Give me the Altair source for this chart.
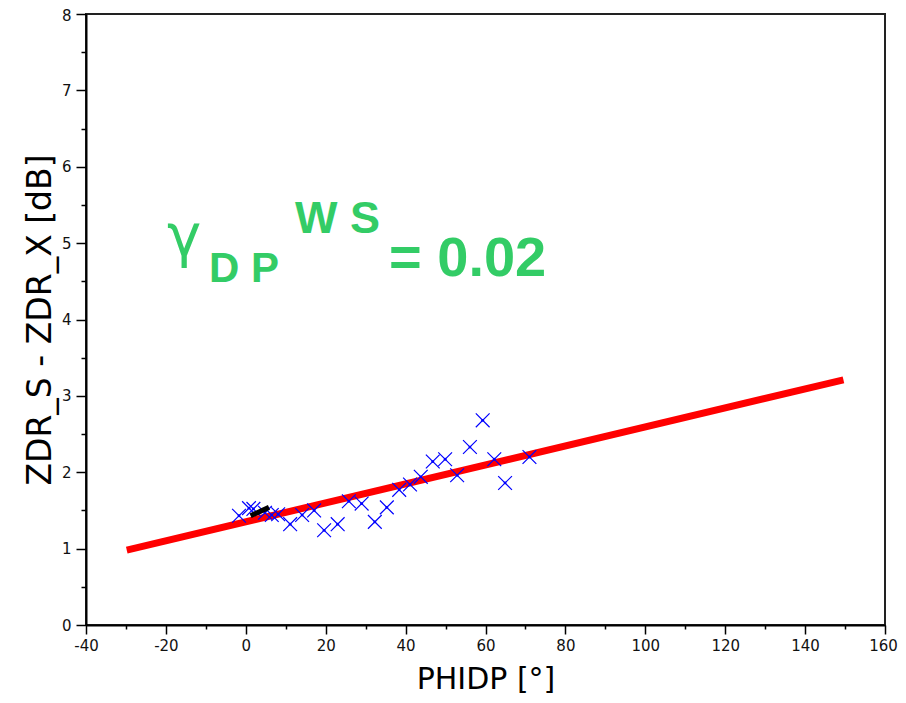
import altair as alt
import pandas as pd

# Blue scatter points (PHIDP, ZDR_S - ZDR_X)
phidp = [-1.7, 0.8, 1.9, 4.8, 6.5, 8.1, 11.1, 14.1, 17.1, 19.6, 23.0, 25.8, 29.0,
         32.3, 35.3, 38.4, 41.1, 43.8, 46.8, 49.9, 52.9, 56.1, 59.3, 62.2, 64.9, 71.0]
dzdr = [1.43, 1.53, 1.52, 1.47, 1.44, 1.45, 1.32, 1.44, 1.50, 1.24, 1.32, 1.62, 1.59,
        1.35, 1.54, 1.77, 1.84, 1.94, 2.14, 2.17, 1.96, 2.33, 2.68, 2.17, 1.86, 2.20]

# black cluster
blk_x = [1.2, 5.8]
blk_y = [1.43, 1.54]

# fitted line
fit_x = [-29.8, 149.6]
fit_y = [0.98, 3.21]

x_major = [-40, -20, 0, 20, 40, 60, 80, 100, 120, 140, 160]
x_minor = [-30, -10, 10, 30, 50, 70, 90, 110, 130, 150]
y_major = [0, 1, 2, 3, 4, 5, 6, 7, 8]
y_minor = [0.5, 1.5, 2.5, 3.5, 4.5, 5.5, 6.5, 7.5]

pts = pd.DataFrame({"x": phidp, "y": dzdr})
blk = pd.DataFrame({"x": blk_x, "y": blk_y})
fit = pd.DataFrame({"x": fit_x, "y": fit_y})

GREEN = "#33cc66"
xs = alt.Scale(domain=[-40, 160], nice=False, zero=False)
ys = alt.Scale(domain=[0, 8], nice=False, zero=False)

x_axis_major = alt.Axis(values=x_major, orient="bottom", title="PHIDP [°]",
                        titleFontSize=30, titleFontWeight="normal", titleFont="DejaVu Sans",
                        titleY=54, titleBaseline="middle", titleColor="black",
                        labelFontSize=15, labelFont="DejaVu Sans", labelColor="#111",
                        labelExpr="datum.value + ''",
                        labelOffset={"condition": {"test": "datum.value == 160", "value": -2},
                                     "value": 0},
                        labelPadding=4, tickSize=9, tickColor="black", tickWidth=1.5,
                        domainColor="black", domainWidth=2, grid=False, labelFlush=False)
y_axis_major = alt.Axis(values=y_major, orient="left", title="ZDR_S - ZDR_X [dB]",
                        titleFontSize=33, titleFontWeight="normal", titleFont="DejaVu Sans",
                        titleX=-46, titleBaseline="middle", titleColor="black", titleAngle=270,
                        labelFontSize=15, labelFont="DejaVu Sans", labelColor="#111",
                        labelExpr="datum.value + ''",
                        labelBaseline={"condition": {"test": "datum.value == 8", "value": "top"},
                                       "value": "middle"},
                        labelOffset={"condition": {"test": "datum.value == 8", "value": -6},
                                     "value": 0},
                        labelPadding=5, tickSize=10, tickColor="black", tickWidth=1.5,
                        domainColor="black", domainWidth=2, grid=False, labelFlush=False)
x_axis_minor = alt.Axis(values=x_minor, orient="bottom", title=None, labels=False,
                        domain=False, tickSize=4, tickColor="black", tickWidth=1.5, grid=False)
y_axis_minor = alt.Axis(values=y_minor, orient="left", title=None, labels=False,
                        domain=False, tickSize=5, tickColor="black", tickWidth=1.5, grid=False)

line = alt.Chart(fit).mark_line(color="#ff0000", strokeWidth=7, strokeCap="butt").encode(
    x=alt.X("x:Q", scale=xs, axis=x_axis_major),
    y=alt.Y("y:Q", scale=ys, axis=y_axis_major),
)

cross = "M-1,-1L1,1M-1,1L1,-1"
points = alt.Chart(pts).mark_point(shape=cross, size=190, color="#0000ff", filled=False,
                                   strokeWidth=1.2, opacity=1).encode(
    x=alt.X("x:Q", scale=xs, axis=x_axis_minor),
    y=alt.Y("y:Q", scale=ys, axis=y_axis_minor),
)
centers = alt.Chart(pts).mark_circle(size=8, color="#0000ff", opacity=1).encode(
    x=alt.X("x:Q", scale=xs, axis=None),
    y=alt.Y("y:Q", scale=ys, axis=None),
)
black = alt.Chart(blk).mark_line(color="black", strokeWidth=5).encode(
    x=alt.X("x:Q", scale=xs, axis=None),
    y=alt.Y("y:Q", scale=ys, axis=None),
)

def label(text, px, py, size, weight="bold", font="Liberation Sans"):
    return alt.Chart(pd.DataFrame({"t": [text]})).mark_text(
        align="left", baseline="alphabetic", fontSize=size, fontWeight=weight,
        font=font, color=GREEN).encode(
        x=alt.value(px), y=alt.value(py), text="t:N")

# annotation positions in plot-area pixels (plot origin at page (86,14))
g = label("γ", 167 - 86, 256 - 14, 58, weight="normal", font="DejaVu Sans")
dp = label("D P", 209 - 86, 282 - 14, 42)
ws = label("W S", 295 - 86, 233 - 14, 45)
eq = label("= 0.02", 389 - 86, 276 - 14, 56)

chart = alt.layer(line, points, centers, black, g, dp, ws, eq).resolve_axis(
    x="independent", y="independent"
).properties(
    width=799, height=611,
    autosize=alt.AutoSizeParams(type="none"),
    padding={"left": 78, "top": 6, "right": 13, "bottom": 70},
    background="white",
).configure_view(stroke="#222", strokeWidth=2)

chart.save("out.html", embed_options={"renderer": "svg", "actions": False})
